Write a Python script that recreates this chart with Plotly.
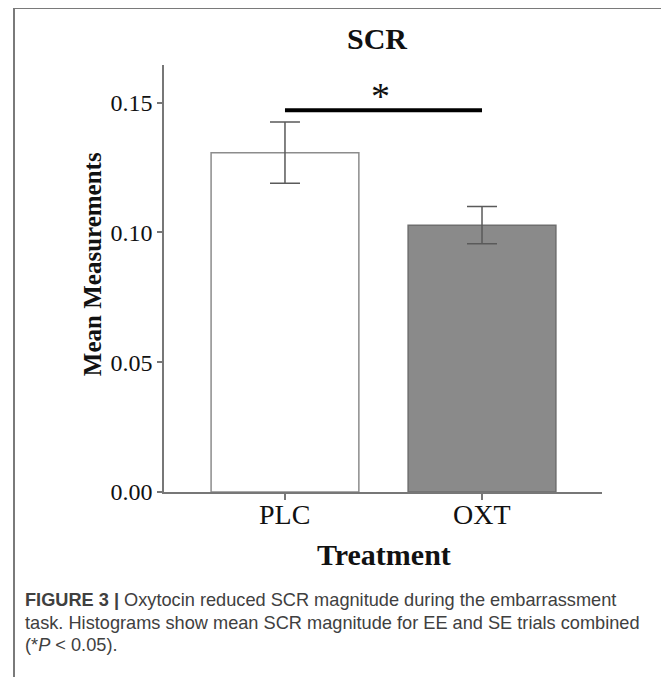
import plotly.graph_objects as go

# ---- data ----
categories = ["PLC", "OXT"]
means = [0.1307, 0.1028]
errors = [0.0118, 0.0072]
bar_fills = ["#ffffff", "#8a8a8a"]
bar_lines = ["#8c8c8c", "#6e6e6e"]
y_ticks = [0.00, 0.05, 0.10, 0.15]
sig_level = 0.1471
sig_label = "*"
title_text = "SCR"
x_title = "Treatment"
y_title = "Mean Measurements"
caption_lines = [
    "<b>FIGURE 3 |</b> Oxytocin reduced SCR magnitude during the embarrassment",
    "task. Histograms show mean SCR magnitude for EE and SE trials combined",
    "(*<i>P</i> &lt; 0.05).",
]

OFF = 8  # page body margin
W, H = 669 - OFF, 677 - OFF
# plot area in reference-page pixels
L, R, T, B = 164, 602, 65, 491.7


def px_x(px):
    return (px - L) / (R - L)


def px_y(py):
    return (B - py) / (B - T)


SERIF = "Liberation Serif"
SANS = "Liberation Sans"

fig = go.Figure()
fig.add_trace(go.Bar(
    x=categories,
    y=means,
    width=0.75,
    marker=dict(color=bar_fills, line=dict(color=bar_lines, width=1.5)),
    error_y=dict(type="data", array=errors, visible=True,
                 color="#5a5a5a", thickness=1.5, width=15),
    showlegend=False,
    hoverinfo="skip",
))

# significance bar between the two categories
fig.add_shape(type="line", xref="x", yref="y",
              x0=categories[0], x1=categories[1], y0=sig_level, y1=sig_level,
              line=dict(color="#000000", width=4))

annotations = [
    dict(text=sig_label, xref="paper", yref="y", x=px_x(380), y=sig_level,
         yanchor="bottom", xanchor="center", showarrow=False, yshift=-9,
         font=dict(family=SERIF, size=38, color="#111")),
    dict(text="<b>%s</b>" % title_text, xref="paper", yref="paper",
         x=px_x(377), y=px_y(39), xanchor="center", yanchor="middle",
         showarrow=False, font=dict(family=SERIF, size=30, color="#111")),
    dict(text="<b>%s</b>" % x_title, xref="paper", yref="paper",
         x=px_x(384), y=px_y(554), xanchor="center", yanchor="middle",
         showarrow=False, font=dict(family=SERIF, size=30, color="#111")),
    dict(text="<b>%s</b>" % y_title, xref="paper", yref="paper",
         x=px_x(92), y=px_y(264), xanchor="center", yanchor="middle",
         textangle=-90, showarrow=False,
         font=dict(family=SERIF, size=25, color="#111")),
]
# category labels under the x axis
for cat in categories:
    annotations.append(dict(
        text=cat, xref="x", yref="paper", x=cat, y=px_y(514),
        xanchor="center", yanchor="middle", showarrow=False,
        font=dict(family=SERIF, size=28, color="#111")))

caption_y = [600, 623, 645]
for line, cy in zip(caption_lines, caption_y):
    annotations.append(dict(
        text=line, xref="paper", yref="paper", x=px_x(23), y=px_y(cy),
        xanchor="left", yanchor="middle", showarrow=False, align="left",
        font=dict(family=SANS, size=18.2, color="#404040")))

# outer frame
fig.add_shape(type="rect", xref="paper", yref="paper",
              x0=px_x(14), x1=px_x(667), y0=px_y(720), y1=px_y(8),
              line=dict(color="#7a7a7a", width=2), fillcolor="rgba(0,0,0,0)",
              layer="below")

fig.update_layout(
    width=W, height=H,
    margin=dict(l=L - OFF, r=W - (R - OFF), t=T - OFF, b=H - (B - OFF), pad=0),
    paper_bgcolor="white", plot_bgcolor="white",
    annotations=annotations,
)
fig.update_xaxes(
    type="category", range=[-0.614, 1.609],
    showline=True, linecolor="#777", linewidth=1.5,
    ticks="outside", ticklen=6, tickcolor="#777", tickwidth=1.5,
    showticklabels=False,
    showgrid=False, zeroline=False,
)
fig.update_yaxes(
    range=[0, 0.1645], tickvals=y_ticks, tickformat=".2f",
    showline=True, linecolor="#777", linewidth=1.5,
    ticks="outside", ticklen=5, tickcolor="#777", tickwidth=1.5,
    tickfont=dict(family=SERIF, size=24, color="#111"),
    showgrid=False, zeroline=False,
)

fig.write_html("out.html")
